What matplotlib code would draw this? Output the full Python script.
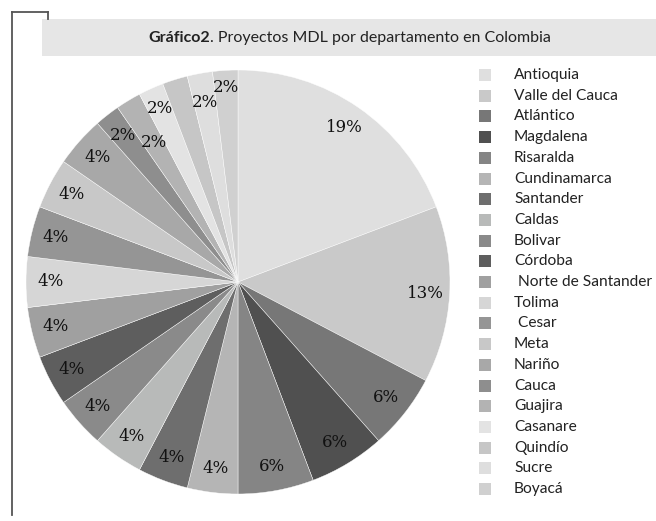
import numpy as np
import matplotlib.pyplot as plt
from matplotlib.patches import Rectangle
from matplotlib.lines import Line2D
from matplotlib.text import Annotation

# Proyectos MDL por departamento (número de proyectos)
departamentos = ["Antioquia", "Valle del Cauca", "Atlántico", "Magdalena", "Risaralda",
                 "Cundinamarca", "Santander", "Caldas", "Bolivar", "Córdoba",
                 " Norte de Santander", "Tolima", " Cesar", "Meta", "Nariño",
                 "Cauca", "Guajira", "Casanare", "Quindío", "Sucre", "Boyacá"]
proyectos = [10, 7, 3, 3, 3, 2, 2, 2, 2, 2, 2, 2, 2, 2, 2, 1, 1, 1, 1, 1, 1]

colores = ["#dfdfdf", "#c9c9c9", "#777777", "#505050", "#858585",
           "#b5b5b5", "#6e6e6e", "#b8bab9", "#8a8a8a", "#5e5e5e",
           "#a0a0a0", "#d6d6d6", "#959595", "#c8c8c8", "#a8a8a8",
           "#8e8e8e", "#b3b3b3", "#e3e3e3", "#c6c6c6", "#dedede", "#d0d0d0"]

W, H = 656, 521


def fx(px):
    return px / W


def fy(py):
    return 1 - py / H


fig = plt.figure(figsize=(W / 100, H / 100), dpi=100)

# marco izquierdo y caja del título
fig.add_artist(Line2D([fx(12), fx(12)], [fy(12), fy(515)], color="#555555", lw=1.3))
fig.add_artist(Line2D([fx(12), fx(48)], [fy(12), fy(12)], color="#555555", lw=1.3))
fig.add_artist(Line2D([fx(48), fx(48)], [fy(12), fy(19)], color="#555555", lw=1.3))
fig.add_artist(Rectangle((fx(42), fy(56)), fx(656) - fx(42), fy(19) - fy(56),
                         transform=fig.transFigure, facecolor="#e6e6e6", edgecolor="none"))

# título: parte en negrita + resto normal
t = fig.text(fx(148), fy(38), "Gráfico2", fontsize=11.5, fontweight="bold",
             family="Lato", va="center", ha="left", color="#222222")
fig.add_artist(Annotation(". Proyectos MDL por departamento en Colombia", xy=(1, 0),
                          xycoords=t, va="bottom", ha="left", fontsize=11.5,
                          family="Lato", color="#222222"))

# pie
cx, cy, r = 238, 282, 212
ax = fig.add_axes([fx(cx - r), fy(cy + r), fx(2 * r), fy(cy - r) - fy(cy + r)])
wedges, _ = ax.pie(proyectos, colors=colores, startangle=90, counterclock=False,
                   radius=1, wedgeprops=dict(edgecolor="white", linewidth=0.3))
ax.set_xlim(-1, 1)
ax.set_ylim(-1, 1)
ax.set_aspect("equal")

total = sum(proyectos)
# radios de las etiquetas pequeñas escalonados como en el original (Quindío sin etiqueta)
radio_etiqueta = {"Cauca": 0.88, "Guajira": 0.77, "Casanare": 0.9, "Quindío": None,
                  "Sucre": 0.86, "Boyacá": 0.92}
for w, v, d in zip(wedges, proyectos, departamentos):
    rr = radio_etiqueta.get(d, 0.885)
    if rr is None:
        continue
    ang = np.deg2rad((w.theta1 + w.theta2) / 2)
    ax.text(rr * np.cos(ang), rr * np.sin(ang), f"{round(100 * v / total)}%",
            ha="center", va="center", fontsize=12, family="DejaVu Serif",
            color="#111111")

# leyenda
y0, paso = 75, 20.7
for i, (d, c) in enumerate(zip(departamentos, colores)):
    y = y0 + i * paso
    fig.add_artist(Rectangle((fx(479), fy(y + 6)), fx(12), fy(y - 6) - fy(y + 6),
                             transform=fig.transFigure, facecolor=c, edgecolor="none"))
    fig.text(fx(514), fy(y), d, fontsize=11.2, family="Lato", va="center",
             ha="left", color="#222222")

fig.savefig("out.png", dpi=100)
